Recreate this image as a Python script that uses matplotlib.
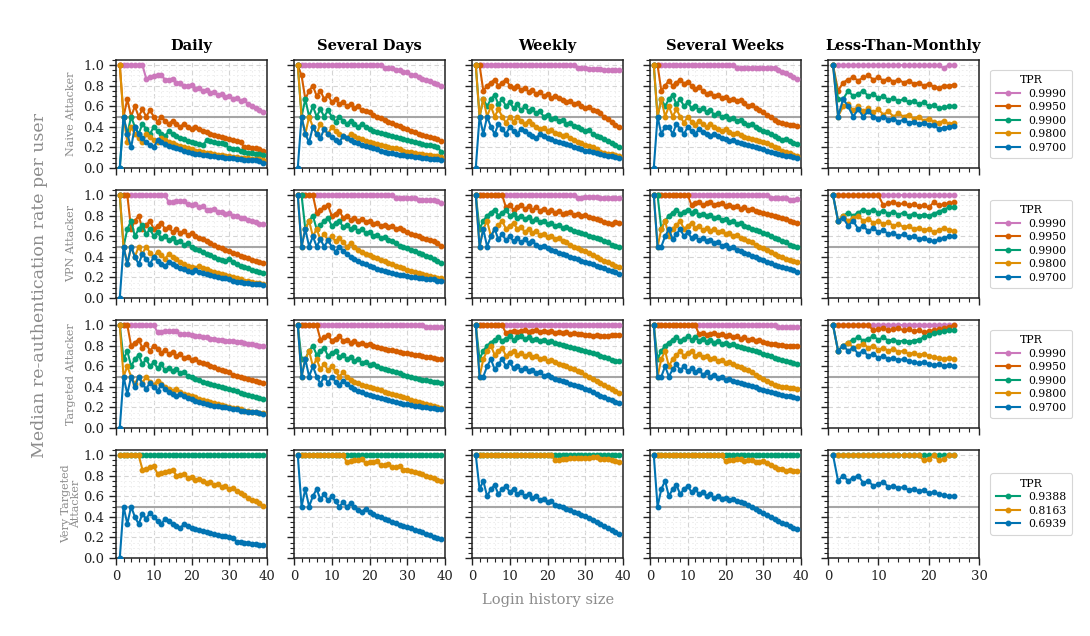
import numpy as np
import matplotlib
matplotlib.use("Agg")
import matplotlib.pyplot as plt
from matplotlib.ticker import MultipleLocator

plt.rcParams['font.family'] = ['DejaVu Serif']

columns = ["Daily", "Several Days", "Weekly", "Several Weeks", "Less-Than-Monthly"]
attackers = ["Naive Attacker", "VPN Attacker", "Targeted Attacker", "Very Targeted\nAttacker"]
tpr_labels = ["0.9990", "0.9950", "0.9900", "0.9800", "0.9700"]
tpr_labels_vt = ["0.9388", "0.8163", "0.6939"]
tpr_colors = ["#cc78bc", "#d55e00", "#029e73", "#de8f05", "#0173b2"]
tpr_colors_vt = ["#029e73", "#de8f05", "#0173b2"]

# ---------------- Naive attacker ----------------
naive_daily = [
    [1.0]*7 + [0.87, 0.88, 0.89, 0.9, 0.9, 0.86, 0.86, 0.87, 0.83, 0.83, 0.8, 0.8, 0.81, 0.77, 0.78, 0.75, 0.76, 0.73, 0.74, 0.71, 0.72, 0.69, 0.7, 0.67, 0.68, 0.65, 0.66, 0.62, 0.6, 0.58, 0.56, 0.54],
    [1.0, 0.5, 0.67, 0.5, 0.6, 0.5, 0.57, 0.5, 0.56, 0.5, 0.45, 0.5, 0.46, 0.43, 0.46, 0.43, 0.4, 0.43, 0.4, 0.38, 0.4, 0.38, 0.36, 0.35, 0.33, 0.32, 0.31, 0.3, 0.29, 0.28, 0.27, 0.26, 0.25, 0.2, 0.2, 0.19, 0.19, 0.18, 0.17],
    [0.0, 0.5, 0.33, 0.5, 0.4, 0.33, 0.43, 0.38, 0.33, 0.4, 0.36, 0.33, 0.31, 0.36, 0.33, 0.31, 0.29, 0.28, 0.26, 0.25, 0.24, 0.23, 0.22, 0.27, 0.26, 0.25, 0.24, 0.24, 0.23, 0.19, 0.18, 0.18, 0.17, 0.16, 0.15, 0.15, 0.14, 0.14, 0.13],
    [1.0, 0.5, 0.25, 0.4, 0.33, 0.29, 0.25, 0.33, 0.3, 0.27, 0.25, 0.29, 0.27, 0.25, 0.24, 0.22, 0.21, 0.2, 0.19, 0.18, 0.17, 0.17, 0.16, 0.15, 0.15, 0.14, 0.13, 0.13, 0.12, 0.12, 0.11, 0.11, 0.1, 0.1, 0.1, 0.09, 0.09, 0.09, 0.08],
    [0.0, 0.5, 0.33, 0.2, 0.4, 0.33, 0.29, 0.25, 0.22, 0.2, 0.27, 0.25, 0.23, 0.21, 0.2, 0.19, 0.18, 0.17, 0.16, 0.15, 0.14, 0.14, 0.13, 0.13, 0.12, 0.12, 0.11, 0.11, 0.1, 0.1, 0.1, 0.09, 0.09, 0.08, 0.08, 0.08, 0.08, 0.07, 0.05],
]
naive_days = [
    [1.0]*23 + [0.97, 0.97, 0.97, 0.95, 0.95, 0.93, 0.93, 0.9, 0.9, 0.88, 0.87, 0.86, 0.85, 0.83, 0.82, 0.8],
    [1.0, 0.9, 0.67, 0.75, 0.8, 0.7, 0.75, 0.67, 0.71, 0.64, 0.67, 0.62, 0.64, 0.6, 0.62, 0.58, 0.6, 0.56, 0.55, 0.54, 0.52, 0.5, 0.49, 0.47, 0.45, 0.44, 0.42, 0.41, 0.39, 0.38, 0.36, 0.35, 0.33, 0.32, 0.31, 0.3, 0.29, 0.28, 0.26],
    [1.0, 0.5, 0.67, 0.5, 0.6, 0.5, 0.57, 0.5, 0.56, 0.5, 0.45, 0.5, 0.46, 0.43, 0.46, 0.43, 0.4, 0.43, 0.4, 0.38, 0.36, 0.35, 0.34, 0.33, 0.32, 0.31, 0.3, 0.29, 0.28, 0.27, 0.26, 0.25, 0.24, 0.23, 0.22, 0.22, 0.21, 0.2, 0.16],
    [1.0, 0.5, 0.33, 0.5, 0.4, 0.33, 0.43, 0.38, 0.33, 0.4, 0.36, 0.33, 0.31, 0.29, 0.33, 0.31, 0.29, 0.28, 0.26, 0.25, 0.24, 0.23, 0.22, 0.21, 0.2, 0.19, 0.19, 0.18, 0.17, 0.16, 0.16, 0.15, 0.14, 0.14, 0.13, 0.13, 0.12, 0.12, 0.11],
    [0.0, 0.5, 0.33, 0.25, 0.4, 0.33, 0.29, 0.38, 0.33, 0.3, 0.27, 0.25, 0.31, 0.29, 0.27, 0.25, 0.24, 0.22, 0.21, 0.2, 0.19, 0.18, 0.17, 0.16, 0.15, 0.15, 0.14, 0.13, 0.13, 0.12, 0.12, 0.11, 0.11, 0.1, 0.1, 0.09, 0.09, 0.09, 0.08],
]
naive_weekly = [
    [1.0]*27 + [0.97, 0.97, 0.97, 0.96, 0.96, 0.96, 0.96, 0.95, 0.95, 0.95, 0.95, 0.95],
    [1.0, 1.0, 0.75, 0.8, 0.83, 0.86, 0.8, 0.83, 0.86, 0.8, 0.78, 0.8, 0.76, 0.78, 0.74, 0.76, 0.72, 0.74, 0.7, 0.72, 0.68, 0.7, 0.68, 0.66, 0.64, 0.65, 0.62, 0.63, 0.6, 0.58, 0.59, 0.56, 0.55, 0.53, 0.5, 0.48, 0.45, 0.42, 0.4],
    [1.0, 0.5, 0.67, 0.6, 0.67, 0.71, 0.62, 0.67, 0.6, 0.64, 0.58, 0.62, 0.56, 0.6, 0.55, 0.57, 0.53, 0.55, 0.5, 0.52, 0.48, 0.49, 0.46, 0.47, 0.43, 0.44, 0.41, 0.4, 0.38, 0.36, 0.37, 0.33, 0.31, 0.3, 0.28, 0.26, 0.24, 0.22, 0.2],
    [1.0, 0.5, 0.67, 0.5, 0.6, 0.5, 0.57, 0.5, 0.44, 0.5, 0.45, 0.5, 0.46, 0.43, 0.46, 0.43, 0.4, 0.38, 0.39, 0.36, 0.37, 0.34, 0.33, 0.31, 0.32, 0.29, 0.27, 0.25, 0.24, 0.22, 0.21, 0.2, 0.18, 0.16, 0.15, 0.14, 0.14, 0.13, 0.12],
    [0.0, 0.5, 0.33, 0.5, 0.4, 0.33, 0.43, 0.38, 0.33, 0.4, 0.36, 0.33, 0.38, 0.36, 0.33, 0.31, 0.29, 0.33, 0.31, 0.29, 0.28, 0.26, 0.25, 0.24, 0.23, 0.22, 0.2, 0.19, 0.18, 0.17, 0.17, 0.16, 0.15, 0.14, 0.13, 0.12, 0.12, 0.11, 0.1],
]
naive_weeks = [
    [1.0]*22 + [0.97]*11 + [0.95, 0.93, 0.92, 0.9, 0.88, 0.87],
    [1.0, 1.0, 0.75, 0.8, 0.85, 0.8, 0.83, 0.86, 0.82, 0.84, 0.8, 0.77, 0.79, 0.75, 0.72, 0.73, 0.7, 0.71, 0.68, 0.69, 0.66, 0.67, 0.65, 0.66, 0.63, 0.6, 0.61, 0.58, 0.56, 0.54, 0.52, 0.5, 0.47, 0.45, 0.44, 0.43, 0.42, 0.42, 0.41],
    [1.0, 0.5, 0.67, 0.6, 0.67, 0.71, 0.62, 0.67, 0.6, 0.64, 0.58, 0.6, 0.56, 0.58, 0.54, 0.56, 0.52, 0.53, 0.5, 0.51, 0.48, 0.49, 0.46, 0.47, 0.44, 0.42, 0.43, 0.4, 0.38, 0.36, 0.35, 0.33, 0.31, 0.29, 0.27, 0.28, 0.26, 0.24, 0.23],
    [1.0, 0.5, 0.67, 0.5, 0.6, 0.5, 0.57, 0.5, 0.44, 0.5, 0.45, 0.42, 0.46, 0.43, 0.4, 0.43, 0.4, 0.38, 0.36, 0.38, 0.35, 0.33, 0.34, 0.32, 0.3, 0.29, 0.28, 0.27, 0.26, 0.25, 0.24, 0.22, 0.2, 0.19, 0.17, 0.16, 0.15, 0.13, 0.12],
    [0.0, 0.5, 0.33, 0.4, 0.4, 0.33, 0.43, 0.38, 0.33, 0.4, 0.36, 0.33, 0.38, 0.35, 0.33, 0.31, 0.33, 0.31, 0.29, 0.28, 0.26, 0.27, 0.25, 0.24, 0.23, 0.22, 0.21, 0.2, 0.19, 0.18, 0.17, 0.16, 0.15, 0.14, 0.13, 0.12, 0.12, 0.11, 0.1],
]
naive_monthly = [
    [1.0]*22 + [0.97, 1.0, 1.0],
    [1.0, 0.75, 0.83, 0.86, 0.88, 0.85, 0.88, 0.9, 0.86, 0.88, 0.85, 0.87, 0.84, 0.86, 0.83, 0.85, 0.82, 0.83, 0.8, 0.82, 0.79, 0.78, 0.8, 0.8, 0.81],
    [1.0, 0.67, 0.67, 0.75, 0.7, 0.72, 0.75, 0.7, 0.72, 0.68, 0.7, 0.66, 0.68, 0.65, 0.67, 0.64, 0.65, 0.62, 0.64, 0.6, 0.61, 0.58, 0.59, 0.6, 0.6],
    [1.0, 0.5, 0.6, 0.62, 0.56, 0.6, 0.55, 0.58, 0.54, 0.57, 0.52, 0.55, 0.5, 0.53, 0.5, 0.52, 0.48, 0.5, 0.46, 0.48, 0.45, 0.44, 0.46, 0.43, 0.44],
    [1.0, 0.5, 0.67, 0.6, 0.5, 0.57, 0.5, 0.55, 0.5, 0.48, 0.5, 0.47, 0.48, 0.45, 0.47, 0.44, 0.45, 0.43, 0.44, 0.42, 0.42, 0.38, 0.39, 0.4, 0.41],
]

# ---------------- VPN attacker ----------------
vpn_daily = [
    [1.0]*13 + [0.93, 0.93, 0.94, 0.94, 0.94, 0.91, 0.9, 0.91, 0.88, 0.89, 0.86, 0.86, 0.87, 0.84, 0.84, 0.82, 0.83, 0.8, 0.8, 0.78, 0.78, 0.76, 0.75, 0.74, 0.72, 0.72],
    [1.0, 1.0, 1.0, 0.67, 0.75, 0.8, 0.67, 0.71, 0.75, 0.67, 0.7, 0.73, 0.67, 0.69, 0.64, 0.67, 0.63, 0.65, 0.61, 0.63, 0.6, 0.58, 0.57, 0.55, 0.53, 0.52, 0.5, 0.49, 0.47, 0.46, 0.44, 0.43, 0.41, 0.4, 0.39, 0.37, 0.36, 0.35, 0.34],
    [1.0, 0.5, 0.67, 0.75, 0.6, 0.67, 0.71, 0.62, 0.67, 0.6, 0.64, 0.58, 0.6, 0.56, 0.58, 0.54, 0.55, 0.52, 0.53, 0.5, 0.48, 0.47, 0.45, 0.43, 0.42, 0.4, 0.38, 0.37, 0.36, 0.38, 0.35, 0.33, 0.31, 0.3, 0.29, 0.27, 0.26, 0.25, 0.24],
    [1.0, 0.5, 0.33, 0.5, 0.4, 0.5, 0.43, 0.5, 0.44, 0.4, 0.45, 0.42, 0.38, 0.43, 0.4, 0.38, 0.35, 0.33, 0.31, 0.3, 0.29, 0.31, 0.29, 0.28, 0.26, 0.25, 0.24, 0.23, 0.22, 0.21, 0.2, 0.19, 0.18, 0.17, 0.17, 0.16, 0.15, 0.15, 0.14],
    [0.0, 0.5, 0.33, 0.5, 0.4, 0.33, 0.43, 0.38, 0.33, 0.4, 0.36, 0.33, 0.31, 0.35, 0.33, 0.31, 0.29, 0.28, 0.26, 0.25, 0.27, 0.25, 0.24, 0.23, 0.22, 0.21, 0.2, 0.19, 0.19, 0.18, 0.17, 0.16, 0.16, 0.15, 0.15, 0.14, 0.14, 0.14, 0.13],
]
vpn_days = [
    [1.0]*26 + [0.97]*6 + [0.95]*5 + [0.94, 0.92],
    [1.0]*5 + [0.83, 0.86, 0.88, 0.9, 0.8, 0.82, 0.85, 0.78, 0.8, 0.76, 0.78, 0.75, 0.77, 0.74, 0.75, 0.72, 0.73, 0.7, 0.71, 0.69, 0.7, 0.67, 0.68, 0.66, 0.64, 0.62, 0.61, 0.6, 0.58, 0.57, 0.56, 0.55, 0.53, 0.51],
    [1.0, 1.0, 0.67, 0.75, 0.8, 0.67, 0.71, 0.75, 0.78, 0.7, 0.73, 0.75, 0.69, 0.71, 0.67, 0.69, 0.65, 0.67, 0.63, 0.64, 0.6, 0.61, 0.58, 0.59, 0.56, 0.55, 0.53, 0.51, 0.5, 0.49, 0.47, 0.46, 0.44, 0.43, 0.41, 0.4, 0.38, 0.36, 0.34],
    [1.0, 0.5, 0.67, 0.75, 0.6, 0.67, 0.57, 0.62, 0.56, 0.6, 0.55, 0.58, 0.54, 0.5, 0.53, 0.5, 0.47, 0.45, 0.43, 0.42, 0.4, 0.39, 0.37, 0.36, 0.34, 0.33, 0.31, 0.3, 0.29, 0.27, 0.26, 0.25, 0.24, 0.23, 0.22, 0.21, 0.2, 0.19, 0.19],
    [1.0, 0.5, 0.67, 0.5, 0.6, 0.5, 0.57, 0.5, 0.56, 0.5, 0.45, 0.5, 0.46, 0.43, 0.4, 0.38, 0.36, 0.34, 0.33, 0.31, 0.3, 0.28, 0.27, 0.26, 0.25, 0.24, 0.23, 0.22, 0.22, 0.21, 0.2, 0.2, 0.19, 0.19, 0.18, 0.18, 0.18, 0.17, 0.17],
]
vpn_weekly = [
    [1.0]*27 + [0.97, 0.97, 0.98, 0.98, 0.98, 0.98, 0.97, 0.97, 0.97, 0.97, 0.97, 0.97],
    [1.0]*8 + [0.88, 0.9, 0.86, 0.88, 0.9, 0.87, 0.89, 0.86, 0.88, 0.85, 0.87, 0.84, 0.86, 0.83, 0.85, 0.82, 0.83, 0.84, 0.81, 0.82, 0.8, 0.81, 0.79, 0.78, 0.77, 0.76, 0.74, 0.73, 0.72, 0.74, 0.73],
    [1.0, 0.67, 0.75, 0.8, 0.83, 0.86, 0.8, 0.83, 0.86, 0.8, 0.82, 0.78, 0.8, 0.77, 0.79, 0.75, 0.77, 0.74, 0.75, 0.72, 0.73, 0.7, 0.71, 0.68, 0.69, 0.67, 0.65, 0.64, 0.63, 0.62, 0.6, 0.59, 0.58, 0.57, 0.55, 0.54, 0.52, 0.51, 0.5],
    [1.0, 0.5, 0.67, 0.75, 0.6, 0.67, 0.71, 0.75, 0.67, 0.7, 0.73, 0.67, 0.69, 0.64, 0.67, 0.63, 0.65, 0.61, 0.62, 0.59, 0.6, 0.57, 0.58, 0.55, 0.54, 0.52, 0.5, 0.49, 0.47, 0.46, 0.44, 0.42, 0.4, 0.38, 0.36, 0.35, 0.33, 0.31, 0.3],
    [1.0, 0.5, 0.67, 0.5, 0.6, 0.67, 0.57, 0.62, 0.56, 0.6, 0.55, 0.58, 0.54, 0.57, 0.53, 0.55, 0.52, 0.5, 0.51, 0.49, 0.47, 0.46, 0.44, 0.43, 0.42, 0.4, 0.39, 0.38, 0.36, 0.35, 0.34, 0.33, 0.31, 0.3, 0.29, 0.27, 0.26, 0.25, 0.23],
]
vpn_weeks = [
    [1.0]*31 + [0.97, 0.97, 0.97, 0.97, 0.97, 0.95, 0.95, 0.96],
    [1.0]*10 + [0.9, 0.92, 0.93, 0.9, 0.92, 0.93, 0.9, 0.91, 0.92, 0.89, 0.9, 0.88, 0.89, 0.87, 0.88, 0.86, 0.87, 0.85, 0.84, 0.83, 0.82, 0.81, 0.8, 0.79, 0.78, 0.77, 0.75, 0.74, 0.73],
    [1.0, 1.0, 0.67, 0.75, 0.8, 0.83, 0.86, 0.82, 0.84, 0.86, 0.83, 0.85, 0.81, 0.82, 0.8, 0.81, 0.78, 0.79, 0.76, 0.77, 0.74, 0.75, 0.72, 0.73, 0.7, 0.69, 0.67, 0.66, 0.65, 0.63, 0.62, 0.6, 0.58, 0.57, 0.55, 0.54, 0.52, 0.51, 0.5],
    [1.0, 0.5, 0.67, 0.75, 0.6, 0.67, 0.71, 0.75, 0.67, 0.7, 0.73, 0.68, 0.7, 0.66, 0.68, 0.65, 0.67, 0.64, 0.65, 0.62, 0.63, 0.6, 0.61, 0.58, 0.57, 0.55, 0.54, 0.52, 0.5, 0.49, 0.47, 0.45, 0.43, 0.41, 0.4, 0.38, 0.37, 0.36, 0.35],
    [1.0, 0.5, 0.5, 0.6, 0.67, 0.57, 0.62, 0.67, 0.6, 0.64, 0.58, 0.6, 0.56, 0.58, 0.55, 0.56, 0.53, 0.54, 0.51, 0.52, 0.49, 0.5, 0.47, 0.46, 0.44, 0.43, 0.41, 0.4, 0.38, 0.37, 0.35, 0.34, 0.32, 0.31, 0.3, 0.29, 0.28, 0.27, 0.25],
]
vpn_monthly = [
    [1.0]*25,
    [1.0]*10 + [0.9, 0.92, 0.93, 0.91, 0.92, 0.9, 0.91, 0.89, 0.9, 0.88, 0.93, 0.9, 0.91, 0.92, 0.93],
    [1.0, 0.75, 0.8, 0.83, 0.8, 0.83, 0.86, 0.84, 0.86, 0.83, 0.85, 0.82, 0.84, 0.81, 0.83, 0.8, 0.82, 0.8, 0.81, 0.8, 0.82, 0.84, 0.86, 0.88, 0.88],
    [1.0, 0.75, 0.8, 0.75, 0.78, 0.8, 0.75, 0.77, 0.73, 0.75, 0.72, 0.74, 0.7, 0.72, 0.69, 0.7, 0.67, 0.68, 0.66, 0.67, 0.64, 0.66, 0.68, 0.66, 0.65],
    [1.0, 0.75, 0.78, 0.7, 0.75, 0.67, 0.7, 0.65, 0.68, 0.64, 0.66, 0.62, 0.63, 0.6, 0.62, 0.59, 0.6, 0.57, 0.58, 0.56, 0.55, 0.57, 0.58, 0.6, 0.6],
]

# ---------------- Targeted attacker ----------------
targeted_daily = [
    [1.0]*10 + [0.93, 0.93, 0.94, 0.94, 0.94, 0.94, 0.91, 0.91, 0.91, 0.9, 0.89, 0.89, 0.88, 0.88, 0.87, 0.87, 0.86, 0.86, 0.85, 0.85, 0.85, 0.84, 0.84, 0.83, 0.82, 0.82, 0.81, 0.8, 0.8],
    [1.0, 1.0, 1.0, 0.8, 0.83, 0.86, 0.78, 0.82, 0.75, 0.8, 0.77, 0.73, 0.76, 0.72, 0.74, 0.7, 0.72, 0.68, 0.69, 0.66, 0.67, 0.64, 0.63, 0.62, 0.6, 0.59, 0.57, 0.56, 0.55, 0.54, 0.52, 0.51, 0.5, 0.49, 0.48, 0.47, 0.46, 0.45, 0.44],
    [1.0, 0.67, 0.75, 0.6, 0.67, 0.71, 0.62, 0.67, 0.6, 0.64, 0.58, 0.62, 0.56, 0.58, 0.55, 0.57, 0.53, 0.54, 0.51, 0.5, 0.48, 0.47, 0.45, 0.44, 0.43, 0.42, 0.41, 0.4, 0.39, 0.38, 0.37, 0.36, 0.34, 0.33, 0.32, 0.31, 0.3, 0.29, 0.28],
    [1.0, 0.5, 0.6, 0.5, 0.43, 0.5, 0.44, 0.5, 0.45, 0.42, 0.46, 0.43, 0.4, 0.38, 0.36, 0.38, 0.35, 0.33, 0.32, 0.31, 0.3, 0.28, 0.27, 0.26, 0.25, 0.24, 0.23, 0.22, 0.21, 0.2, 0.19, 0.19, 0.18, 0.17, 0.17, 0.16, 0.16, 0.15, 0.15],
    [0.0, 0.5, 0.33, 0.5, 0.4, 0.5, 0.43, 0.38, 0.44, 0.4, 0.36, 0.42, 0.38, 0.35, 0.33, 0.31, 0.33, 0.31, 0.29, 0.28, 0.26, 0.25, 0.24, 0.23, 0.22, 0.21, 0.21, 0.2, 0.2, 0.19, 0.18, 0.18, 0.17, 0.17, 0.16, 0.16, 0.16, 0.15, 0.14],
]
targeted_days = [
    [1.0]*34 + [0.98]*5,
    [1.0]*6 + [0.86, 0.88, 0.9, 0.85, 0.87, 0.89, 0.85, 0.86, 0.83, 0.85, 0.82, 0.83, 0.81, 0.82, 0.8, 0.79, 0.78, 0.77, 0.76, 0.76, 0.75, 0.74, 0.73, 0.73, 0.72, 0.71, 0.71, 0.7, 0.69, 0.69, 0.68, 0.67, 0.67],
    [1.0, 0.67, 0.67, 0.75, 0.8, 0.71, 0.75, 0.78, 0.7, 0.73, 0.75, 0.69, 0.71, 0.67, 0.69, 0.65, 0.67, 0.63, 0.64, 0.61, 0.62, 0.6, 0.58, 0.57, 0.56, 0.55, 0.54, 0.53, 0.52, 0.51, 0.5, 0.49, 0.48, 0.47, 0.47, 0.46, 0.45, 0.45, 0.44],
    [1.0, 0.5, 0.67, 0.75, 0.6, 0.67, 0.57, 0.62, 0.56, 0.6, 0.55, 0.5, 0.54, 0.5, 0.47, 0.45, 0.44, 0.42, 0.41, 0.4, 0.39, 0.38, 0.37, 0.35, 0.34, 0.33, 0.32, 0.31, 0.3, 0.29, 0.27, 0.26, 0.25, 0.24, 0.23, 0.22, 0.21, 0.2, 0.19],
    [1.0, 0.5, 0.67, 0.5, 0.6, 0.5, 0.43, 0.5, 0.44, 0.5, 0.45, 0.42, 0.46, 0.43, 0.4, 0.38, 0.36, 0.35, 0.33, 0.32, 0.31, 0.3, 0.29, 0.28, 0.27, 0.26, 0.25, 0.24, 0.23, 0.23, 0.22, 0.21, 0.21, 0.2, 0.2, 0.19, 0.19, 0.18, 0.18],
]
targeted_weekly = [
    [1.0]*39,
    [1.0]*8 + [0.92, 0.93, 0.94, 0.93, 0.94, 0.95, 0.93, 0.94, 0.95, 0.93, 0.94, 0.93, 0.94, 0.92, 0.93, 0.92, 0.93, 0.91, 0.92, 0.91, 0.91, 0.9, 0.9, 0.89, 0.9, 0.89, 0.89, 0.89, 0.9, 0.9, 0.9],
    [1.0, 0.67, 0.75, 0.8, 0.83, 0.86, 0.88, 0.85, 0.87, 0.89, 0.86, 0.88, 0.89, 0.87, 0.88, 0.86, 0.87, 0.85, 0.86, 0.84, 0.85, 0.83, 0.82, 0.81, 0.8, 0.79, 0.78, 0.77, 0.76, 0.75, 0.74, 0.73, 0.72, 0.7, 0.69, 0.68, 0.66, 0.65, 0.65],
    [1.0, 0.5, 0.67, 0.75, 0.8, 0.71, 0.75, 0.78, 0.7, 0.73, 0.75, 0.71, 0.73, 0.7, 0.72, 0.69, 0.7, 0.67, 0.68, 0.65, 0.66, 0.64, 0.62, 0.61, 0.6, 0.58, 0.57, 0.55, 0.54, 0.52, 0.5, 0.48, 0.46, 0.44, 0.42, 0.4, 0.38, 0.36, 0.34],
    [1.0, 0.5, 0.5, 0.6, 0.67, 0.57, 0.62, 0.67, 0.6, 0.64, 0.58, 0.6, 0.56, 0.58, 0.55, 0.56, 0.53, 0.54, 0.51, 0.52, 0.5, 0.48, 0.47, 0.46, 0.45, 0.43, 0.42, 0.41, 0.4, 0.38, 0.37, 0.35, 0.33, 0.31, 0.3, 0.28, 0.27, 0.25, 0.24],
]
targeted_weeks = [
    [1.0]*33 + [0.98]*6,
    [1.0]*12 + [0.91, 0.92, 0.9, 0.91, 0.92, 0.9, 0.91, 0.89, 0.9, 0.88, 0.89, 0.87, 0.88, 0.86, 0.87, 0.85, 0.86, 0.84, 0.83, 0.82, 0.82, 0.81, 0.81, 0.8, 0.8, 0.8, 0.8],
    [1.0, 0.67, 0.75, 0.8, 0.83, 0.86, 0.88, 0.85, 0.87, 0.89, 0.86, 0.88, 0.85, 0.87, 0.84, 0.86, 0.83, 0.85, 0.82, 0.83, 0.81, 0.82, 0.8, 0.79, 0.78, 0.77, 0.76, 0.75, 0.74, 0.72, 0.71, 0.7, 0.68, 0.67, 0.66, 0.65, 0.64, 0.63, 0.62],
    [1.0, 0.5, 0.67, 0.75, 0.6, 0.67, 0.71, 0.75, 0.7, 0.73, 0.75, 0.7, 0.72, 0.69, 0.7, 0.67, 0.68, 0.65, 0.66, 0.63, 0.64, 0.62, 0.6, 0.59, 0.57, 0.56, 0.54, 0.52, 0.5, 0.48, 0.46, 0.44, 0.42, 0.41, 0.4, 0.4, 0.39, 0.39, 0.38],
    [1.0, 0.5, 0.5, 0.6, 0.5, 0.57, 0.62, 0.56, 0.6, 0.55, 0.58, 0.54, 0.56, 0.52, 0.54, 0.5, 0.52, 0.49, 0.5, 0.47, 0.48, 0.46, 0.45, 0.44, 0.43, 0.42, 0.41, 0.4, 0.38, 0.37, 0.36, 0.35, 0.34, 0.33, 0.32, 0.31, 0.31, 0.3, 0.29],
]
targeted_monthly = [
    [1.0]*25,
    [1.0]*8 + [0.95, 0.96, 0.97, 0.95, 0.96, 0.97, 0.95, 0.96, 0.94, 0.95, 0.93, 0.94, 0.95, 0.96, 0.97, 0.98, 1.0],
    [1.0, 0.75, 0.8, 0.83, 0.86, 0.88, 0.85, 0.87, 0.89, 0.86, 0.88, 0.85, 0.86, 0.84, 0.85, 0.84, 0.85, 0.86, 0.88, 0.9, 0.92, 0.93, 0.94, 0.95, 0.95],
    [1.0, 0.75, 0.8, 0.83, 0.78, 0.8, 0.82, 0.78, 0.8, 0.76, 0.78, 0.75, 0.77, 0.74, 0.75, 0.72, 0.73, 0.71, 0.72, 0.7, 0.69, 0.68, 0.67, 0.68, 0.67],
    [1.0, 0.75, 0.8, 0.75, 0.78, 0.72, 0.75, 0.7, 0.72, 0.68, 0.7, 0.67, 0.68, 0.66, 0.67, 0.65, 0.64, 0.63, 0.64, 0.62, 0.61, 0.62, 0.6, 0.61, 0.6],
]

# ---------------- Very targeted attacker ----------------
vtargeted_daily = [
    [1.0]*39,
    [1.0]*6 + [0.86, 0.87, 0.88, 0.89, 0.82, 0.83, 0.84, 0.85, 0.86, 0.8, 0.81, 0.82, 0.78, 0.79, 0.76, 0.77, 0.75, 0.73, 0.74, 0.71, 0.72, 0.69, 0.7, 0.67, 0.68, 0.65, 0.63, 0.61, 0.58, 0.56, 0.55, 0.53, 0.51],
    [0.0, 0.5, 0.33, 0.5, 0.4, 0.33, 0.43, 0.38, 0.44, 0.4, 0.36, 0.33, 0.38, 0.36, 0.33, 0.31, 0.29, 0.33, 0.31, 0.29, 0.28, 0.27, 0.26, 0.25, 0.24, 0.23, 0.22, 0.21, 0.21, 0.2, 0.19, 0.16, 0.16, 0.15, 0.15, 0.14, 0.14, 0.13, 0.13],
]
vtargeted_days = [
    [1.0]*39,
    [1.0]*13 + [0.93, 0.94, 0.95, 0.95, 0.96, 0.92, 0.93, 0.93, 0.94, 0.9, 0.9, 0.91, 0.88, 0.88, 0.89, 0.86, 0.86, 0.85, 0.84, 0.83, 0.82, 0.8, 0.79, 0.78, 0.76, 0.75],
    [1.0, 0.5, 0.67, 0.5, 0.6, 0.67, 0.57, 0.62, 0.56, 0.6, 0.55, 0.5, 0.54, 0.5, 0.53, 0.5, 0.47, 0.45, 0.48, 0.45, 0.43, 0.41, 0.4, 0.38, 0.37, 0.35, 0.34, 0.32, 0.31, 0.3, 0.29, 0.27, 0.26, 0.25, 0.23, 0.22, 0.2, 0.19, 0.18],
]
vtargeted_weekly = [
    [1.0]*39,
    [1.0]*21 + [0.95, 0.95, 0.96, 0.96, 0.97, 0.97, 0.97, 0.97, 0.97, 0.97, 0.98, 0.98, 0.96, 0.96, 0.96, 0.95, 0.94, 0.93],
    [1.0, 0.67, 0.75, 0.6, 0.67, 0.71, 0.62, 0.67, 0.7, 0.64, 0.67, 0.62, 0.64, 0.6, 0.62, 0.58, 0.6, 0.56, 0.57, 0.54, 0.55, 0.52, 0.51, 0.5, 0.48, 0.47, 0.45, 0.44, 0.42, 0.41, 0.39, 0.37, 0.35, 0.33, 0.31, 0.29, 0.27, 0.25, 0.23],
]
vtargeted_weeks = [
    [1.0]*39,
    [1.0]*19 + [0.94, 0.95, 0.95, 0.96, 0.96, 0.94, 0.95, 0.95, 0.93, 0.93, 0.94, 0.92, 0.9, 0.88, 0.87, 0.87, 0.85, 0.86, 0.85, 0.85],
    [1.0, 0.5, 0.67, 0.75, 0.6, 0.67, 0.71, 0.62, 0.67, 0.7, 0.64, 0.67, 0.62, 0.64, 0.6, 0.62, 0.58, 0.6, 0.57, 0.58, 0.56, 0.57, 0.55, 0.54, 0.53, 0.52, 0.5, 0.48, 0.46, 0.44, 0.42, 0.4, 0.38, 0.36, 0.34, 0.33, 0.31, 0.29, 0.28],
]
vtargeted_monthly = [
    [1.0]*25,
    [1.0]*18 + [0.95, 0.96, 1.0, 0.95, 0.96, 1.0, 1.0],
    [1.0, 0.75, 0.8, 0.75, 0.78, 0.8, 0.73, 0.75, 0.7, 0.72, 0.74, 0.69, 0.7, 0.68, 0.69, 0.66, 0.67, 0.65, 0.66, 0.63, 0.64, 0.62, 0.61, 0.6, 0.6],
]

panels = [
    [naive_daily, naive_days, naive_weekly, naive_weeks, naive_monthly],
    [vpn_daily, vpn_days, vpn_weekly, vpn_weeks, vpn_monthly],
    [targeted_daily, targeted_days, targeted_weekly, targeted_weeks, targeted_monthly],
    [vtargeted_daily, vtargeted_days, vtargeted_weekly, vtargeted_weeks, vtargeted_monthly],
]

fig = plt.figure(figsize=(10.9, 6.36), dpi=100)
W, H = 1090.0, 636.0
col_left = [116, 294, 472, 650, 828]
ax_w = 151
row_top = [60, 190, 320, 450]
ax_h = 108

label_gray = "#8c8c8c"
for r in range(4):
    for c in range(5):
        ax = fig.add_axes([col_left[c] / W, 1 - (row_top[r] + ax_h) / H, ax_w / W, ax_h / H])
        series = panels[r][c]
        if r < 3:
            labs, cols = tpr_labels, tpr_colors
        else:
            labs, cols = tpr_labels_vt, tpr_colors_vt
        ax.axhline(0.5, color="#a6a6a6", lw=1.5, zorder=2)
        for y, lab, col in zip(series, labs, cols):
            x = np.arange(1, len(y) + 1)
            ax.plot(x, y, marker="o", ms=3.2, lw=1.5, color=col, label=lab, zorder=3)
        xmax = 30 if c == 4 else 40
        ax.set_xlim(0, xmax)
        ax.set_ylim(0, 1.05)
        ax.xaxis.set_major_locator(MultipleLocator(10))
        ax.xaxis.set_minor_locator(MultipleLocator(2))
        ax.yaxis.set_major_locator(MultipleLocator(0.2))
        ax.yaxis.set_minor_locator(MultipleLocator(0.05))
        ax.grid(True, which="major", ls=(0, (4, 3)), color="#d4d4d4", lw=0.8)
        ax.grid(True, which="minor", ls=(0, (2, 3)), color="#ebebeb", lw=0.6)
        ax.tick_params(which="major", direction="out", length=5, width=1.0, labelsize=9.5, colors="#222222")
        ax.tick_params(which="minor", direction="out", length=3, width=0.8, colors="#222222")
        ax.tick_params(top=False, right=False, which="both")
        for sp in ax.spines.values():
            sp.set_linewidth(1.1)
            sp.set_color("#222222")
        if c != 0:
            ax.set_yticklabels([])
        else:
            ax.set_yticks([0, 0.2, 0.4, 0.6, 0.8, 1.0])
            ax.set_yticklabels(["0.0", "0.2", "0.4", "0.6", "0.8", "1.0"])
        if r != 3:
            ax.set_xticklabels([])
        if r == 0:
            ax.set_title(columns[c], fontweight="bold", fontsize=10.5, pad=7)
        if c == 4:
            leg = ax.legend(loc="center left", bbox_to_anchor=(1.04, 0.5), title="TPR",
                            fontsize=7.8, title_fontsize=7.8, frameon=True,
                            handlelength=2.2, labelspacing=0.32, borderpad=0.5)
            leg.get_frame().set_edgecolor("#cccccc")
            leg.get_frame().set_linewidth(0.8)

for r in range(4):
    yc = 1 - (row_top[r] + ax_h / 2) / H
    fig.text(71 / W, yc, attackers[r], rotation=90, ha="center", va="center",
             fontsize=8, color=label_gray, linespacing=1.0)

fig.text(40 / W, 1 - 285 / H, "Median re-authentication rate per user", rotation=90,
         ha="center", va="center", fontsize=12.5, color=label_gray)
fig.text(548 / W, 1 - 600 / H, "Login history size", ha="center", va="center",
         fontsize=10.5, color=label_gray)

fig.savefig("out.png", dpi=100)
